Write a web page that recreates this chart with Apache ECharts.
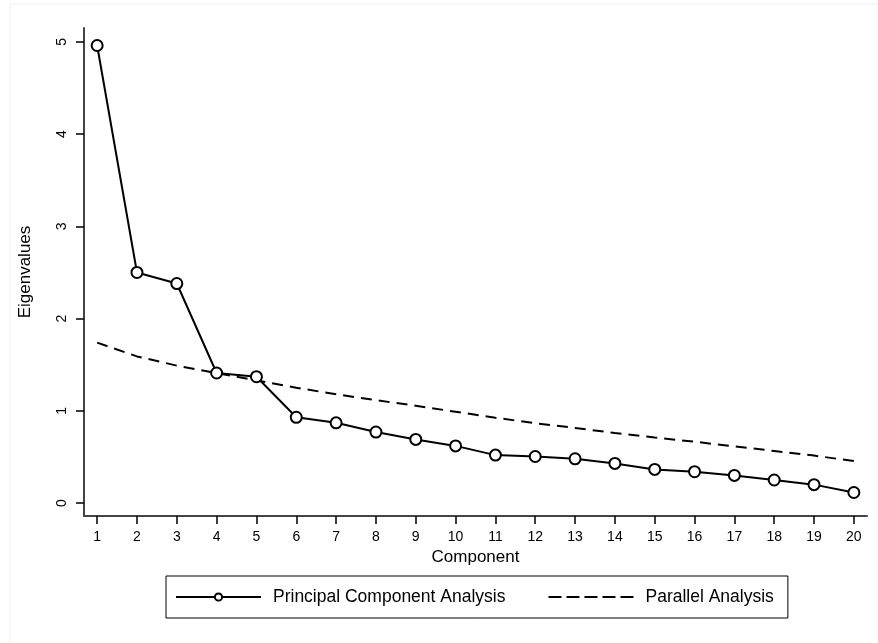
<!DOCTYPE html>
<html>
<head>
<meta charset="utf-8">
<script src="https://cdn.jsdelivr.net/npm/echarts@6/dist/echarts.min.js"></script>
<style>
  html, body { margin: 0; padding: 0; background: #fff; }
  #chart { width: 878px; height: 643px; }
</style>
</head>
<body>
<div id="chart"></div>
<script>
// components 1..20
var components = [1, 2, 3, 4, 5, 6, 7, 8, 9, 10, 11, 12, 13, 14, 15, 16, 17, 18, 19, 20];
// eigenvalues from PCA
var pcaValues = [4.96, 2.50, 2.38, 1.41, 1.37, 0.93, 0.87, 0.77, 0.69, 0.62,
                 0.52, 0.505, 0.48, 0.43, 0.365, 0.34, 0.30, 0.25, 0.20, 0.115];
// parallel analysis (random data) eigenvalues
var parallelValues = [1.74, 1.59, 1.49, 1.41, 1.33, 1.25, 1.18, 1.115, 1.055, 0.99,
                      0.925, 0.865, 0.815, 0.76, 0.71, 0.665, 0.615, 0.565, 0.515, 0.455];
var yTicks = [0, 1, 2, 3, 4, 5];

function pairs(vals) {
    return components.map(function (c, i) { return [c, vals[i]]; });
}

var chart = echarts.init(document.getElementById('chart'));
var font = 'Liberation Sans, Arial, sans-serif';

var option = {
    animation: false,
    backgroundColor: '#fff',
    textStyle: { fontFamily: font, color: '#000' },
    grid: { left: 84, right: 11, top: 28, bottom: 127 },
    xAxis: {
        type: 'value',
        min: 0.67,
        max: 20.33,
        name: 'Component',
        nameLocation: 'middle',
        nameGap: 30,
        nameTextStyle: { fontSize: 17, color: '#000', fontFamily: font },
        axisLine: { show: true, onZero: false, lineStyle: { color: '#444', width: 2 } },
        axisTick: { show: true, customValues: components, length: 8, lineStyle: { color: '#000', width: 1.5 } },
        axisLabel: { customValues: components, margin: 14, fontSize: 14, color: '#000', fontFamily: font },
        splitLine: { show: false }
    },
    yAxis: {
        type: 'value',
        min: -0.14,
        max: 5.15,
        name: 'Eigenvalues',
        nameLocation: 'middle',
        nameRotate: 90,
        nameGap: 50,
        nameTextStyle: { fontSize: 17, color: '#000', fontFamily: font },
        axisLine: { show: true, onZero: false, lineStyle: { color: '#444', width: 2 } },
        axisTick: { show: true, customValues: yTicks, length: 8, lineStyle: { color: '#000', width: 1.5 } },
        axisLabel: { customValues: yTicks, rotate: 90, margin: 15, fontSize: 14, color: '#000', fontFamily: font },
        splitLine: { show: false }
    },
    legend: {
        left: 166,
        top: 576,
        orient: 'horizontal',
        borderColor: '#000',
        borderWidth: 1,
        padding: [12, 14, 12, 9],
        itemWidth: 85,
        itemHeight: 9,
        itemGap: 42,
        textStyle: { fontSize: 17.5, color: '#000', fontFamily: font, padding: [0, 0, 0, 7] },
        data: [
            { name: 'Principal Component Analysis' },
            { name: 'Parallel Analysis', itemStyle: { opacity: 0 }, lineStyle: { type: [13, 5] } }
        ]
    },
    graphic: [
        { type: 'line', shape: { x1: 10, y1: 4, x2: 878, y2: 4 }, style: { stroke: '#eee', lineWidth: 1 } },
        { type: 'line', shape: { x1: 10, y1: 4, x2: 10, y2: 643 }, style: { stroke: '#eee', lineWidth: 1 } }
    ],
    series: [
        {
            name: 'Principal Component Analysis',
            type: 'line',
            data: pairs(pcaValues),
            symbol: 'emptyCircle',
            symbolSize: 11,
            lineStyle: { color: '#000', width: 2 },
            itemStyle: { color: '#000', borderColor: '#000', borderWidth: 2 },
            z: 3
        },
        {
            name: 'Parallel Analysis',
            type: 'line',
            data: pairs(parallelValues),
            showSymbol: false,
            symbol: 'none',
            lineStyle: { color: '#000', width: 2, type: [11, 7] },
            itemStyle: { color: '#000' },
            z: 2
        }
    ]
};
chart.setOption(option);
</script>
</body>
</html>
